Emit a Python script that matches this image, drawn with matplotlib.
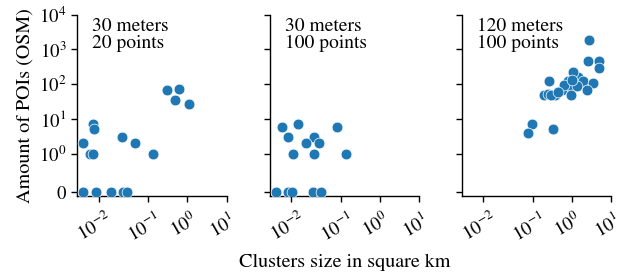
import matplotlib
matplotlib.use("Agg")
import matplotlib.pyplot as plt
import matplotlib.transforms as mtransforms

plt.rcParams['font.family'] = ['STIXGeneral', 'DejaVu Serif']
plt.rcParams['mathtext.fontset'] = 'stix'

titles = ["30 meters\n20 points", "30 meters\n100 points", "120 meters\n100 points"]

p1_x = [0.00275, 0.00707, 0.00767, 0.00569, 0.00707, 0.0214, 0.0468, 0.132,
        0.30, 0.61, 0.473, 1.11,
        0.00275, 0.0086, 0.0153, 0.0223, 0.0282]
p1_y = [2, 7, 5, 1, 1, 3, 2, 1,
        69, 75, 35, 27,
        0, 0, 0, 0, 0]

p2_x = [0.0055, 0.013, 0.0793, 0.0084, 0.0205, 0.0167, 0.028, 0.0107, 0.0209, 0.137,
        0.00275, 0.00853, 0.0102, 0.0200, 0.031]
p2_y = [6, 7, 6, 3, 3, 2, 2, 1, 1, 1,
        0, 0, 0, 0, 0]

p3_x = [2.69, 2.54, 5.01, 5.0, 0.261, 1.15, 1.46, 1.92, 3.38, 0.79, 0.898, 1.33,
        2.40, 0.551, 0.372, 0.194, 0.251, 0.30, 0.93, 0.099, 0.075, 0.334,
        1.06, 0.62, 0.45, 1.0]
p3_y = [1900, 461, 461, 296, 125, 199, 160, 125, 107, 125, 90, 90,
        66, 69, 49, 49, 51, 48, 48, 7, 4, 5,
        217, 96, 61, 134]

xs = [p1_x, p2_x, p3_x]
ys = [p1_y, p2_y, p3_y]

x_ticks = [1e-2, 1e-1, 1e0, 1e1]
x_ticklabels = [r"$10^{-2}$", r"$10^{-1}$", r"$10^{0}$", r"$10^{1}$"]
y_ticks = [0, 1, 10, 100, 1000, 10000]
y_ticklabels = ["0", r"$10^{0}$", r"$10^{1}$", r"$10^{2}$", r"$10^{3}$", r"$10^{4}$"]

FS_TICK = 13.5
FS_LABEL = 14.5
FS_TITLE = 14

fig = plt.figure(figsize=(6.26, 2.73), dpi=100)
lefts = [0.1235, 0.4308, 0.7375]
axes = []
for i in range(3):
    ax = fig.add_axes([lefts[i], 0.282, 0.2385, 0.664])
    axes.append(ax)
    ax.scatter(xs[i], ys[i], s=60, color='#1f77b4', edgecolor='white', linewidth=0.5, zorder=3)
    ax.set_xscale('symlog', linthresh=0.02, linscale=1)
    ax.set_yscale('symlog', linthresh=1, linscale=1)
    ax.set_xlim(0, 10)
    ax.set_ylim(-0.1, 10000)
    ax.set_xticks(x_ticks)
    ax.xaxis.set_minor_locator(matplotlib.ticker.NullLocator())
    ax.yaxis.set_minor_locator(matplotlib.ticker.NullLocator())
    ax.set_yticks(y_ticks)
    for s in ['top', 'right']:
        ax.spines[s].set_visible(False)
    for s in ['left', 'bottom']:
        ax.spines[s].set_linewidth(1.0)
    ax.tick_params(length=4.5, width=1.0)
    ax.tick_params(axis='x', pad=5)
    ax.tick_params(axis='y', pad=3.5)
    ax.set_xticklabels(x_ticklabels, rotation=30, ha='center', fontsize=FS_TICK)
    if i == 0:
        ax.set_yticklabels(y_ticklabels, fontsize=FS_TICK)
        ax.set_ylabel("Amount of POIs (OSM)", fontsize=FS_LABEL, labelpad=4)
    else:
        ax.set_yticklabels([])
    if i == 1:
        ax.set_xlabel("Clusters size in square km", fontsize=FS_LABEL, labelpad=6)
    ax.text(0.1, 0.985, titles[i], transform=ax.transAxes, va='top', ha='left',
            fontsize=FS_TITLE, linespacing=1.05)

fig.canvas.draw()
shift = mtransforms.ScaledTranslation(-4 / 100, 0, fig.dpi_scale_trans)
for ax in axes:
    for tick in ax.xaxis.get_major_ticks():
        tick.label1.set_transform(tick.label1.get_transform() + shift)

fig.savefig("out.png", dpi=100)
